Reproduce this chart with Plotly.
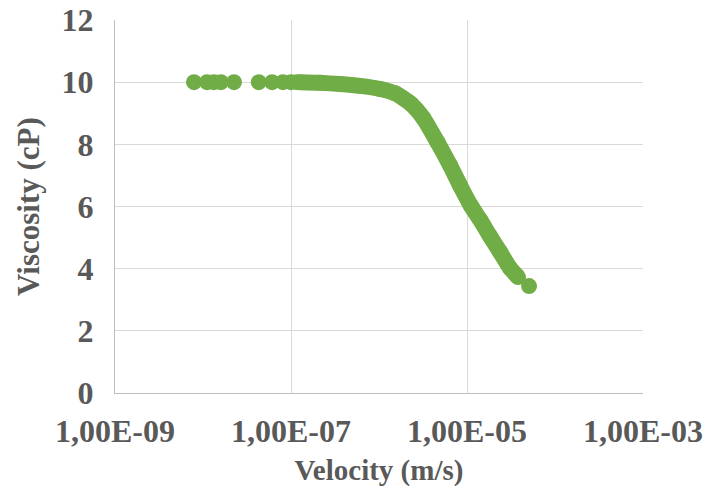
import plotly.graph_objects as go

# Sparse low-velocity measurements (m/s) and viscosity (cP)
sparse_velocity = [7.9e-9, 1.11e-8, 1.33e-8, 1.6e-8, 2.25e-8,
                   4.3e-8, 6.1e-8, 8.1e-8, 1.0e-7, 1.17e-7]
sparse_viscosity = [10.0, 10.0, 10.0, 10.0, 10.0,
                    10.0, 10.0, 10.0, 10.0, 10.0]

# Dense shear-thinning region
dense_velocity = [1.26e-7, 2.14e-7, 3.6e-7, 6.1e-7, 1.03e-6, 1.52e-6,
                  2.31e-6, 3.16e-6, 4.68e-6, 6.4e-6, 8.3e-6, 1.11e-5,
                  1.41e-5, 1.82e-5, 2.37e-5, 3.08e-5, 3.8e-5]
dense_viscosity = [10.0, 9.98, 9.94, 9.88, 9.78, 9.64,
                   9.3, 8.86, 8.04, 7.33, 6.69, 6.02,
                   5.57, 5.05, 4.54, 4.02, 3.73]

# Final measurement
last_velocity = [5.07e-5]
last_viscosity = [3.44]

x_ticks = [1e-9, 1e-7, 1e-5, 1e-3]
x_tick_text = ["1,00E-09", "1,00E-07", "1,00E-05", "1,00E-03"]
y_ticks = [0, 2, 4, 6, 8, 10, 12]

GREEN = "#70AD47"
TEXT = "#595959"
FONT = "Liberation Serif"
MSIZE = 16

fig = go.Figure()
fig.add_trace(go.Scatter(x=sparse_velocity, y=sparse_viscosity, mode="markers",
                         marker=dict(color=GREEN, size=MSIZE), showlegend=False))
fig.add_trace(go.Scatter(x=dense_velocity, y=dense_viscosity, mode="lines+markers",
                         line=dict(color=GREEN, width=MSIZE, shape="spline", smoothing=0.6),
                         marker=dict(color=GREEN, size=MSIZE), showlegend=False))
fig.add_trace(go.Scatter(x=last_velocity, y=last_viscosity, mode="markers",
                         marker=dict(color=GREEN, size=MSIZE), showlegend=False))

fig.update_layout(
    width=710, height=495,
    margin=dict(l=115, r=67, t=20, b=102),
    paper_bgcolor="white", plot_bgcolor="white",
    font=dict(family=FONT, color=TEXT),
    xaxis=dict(
        type="log", range=[-9, -3], automargin=False,
        tickvals=x_ticks, ticktext=["<b>%s</b>" % t for t in x_tick_text],
        tickfont=dict(family=FONT, size=32, color=TEXT),
        showgrid=True, gridcolor="#D9D9D9", gridwidth=1.3,
        showline=True, linecolor="#BFBFBF", linewidth=1.3, mirror=False,
        zeroline=False, ticklabelstandoff=9,
        title=dict(text="<b>Velocity (m/s)</b>",
                   font=dict(family=FONT, size=29, color=TEXT), standoff=12),
    ),
    yaxis=dict(
        range=[0, 12], automargin=False,
        tickvals=y_ticks, ticktext=["<b>%d</b>" % v for v in y_ticks],
        tickfont=dict(family=FONT, size=32, color=TEXT),
        showgrid=True, gridcolor="#D9D9D9", gridwidth=1.3,
        showline=True, linecolor="#BFBFBF", linewidth=1.3,
        zeroline=False, ticklabelstandoff=14,
        title=dict(text="<b>Viscosity (cP)</b>",
                   font=dict(family=FONT, size=31, color=TEXT), standoff=12),
    ),
)

# Label of the next figure peeking in at the bottom edge
fig.add_annotation(text="<b>12</b>", xref="paper", yref="paper",
                   x=1.017, y=-0.26, xanchor="center", yanchor="top",
                   showarrow=False, font=dict(family=FONT, size=30, color=TEXT))

fig.write_html("out.html")
